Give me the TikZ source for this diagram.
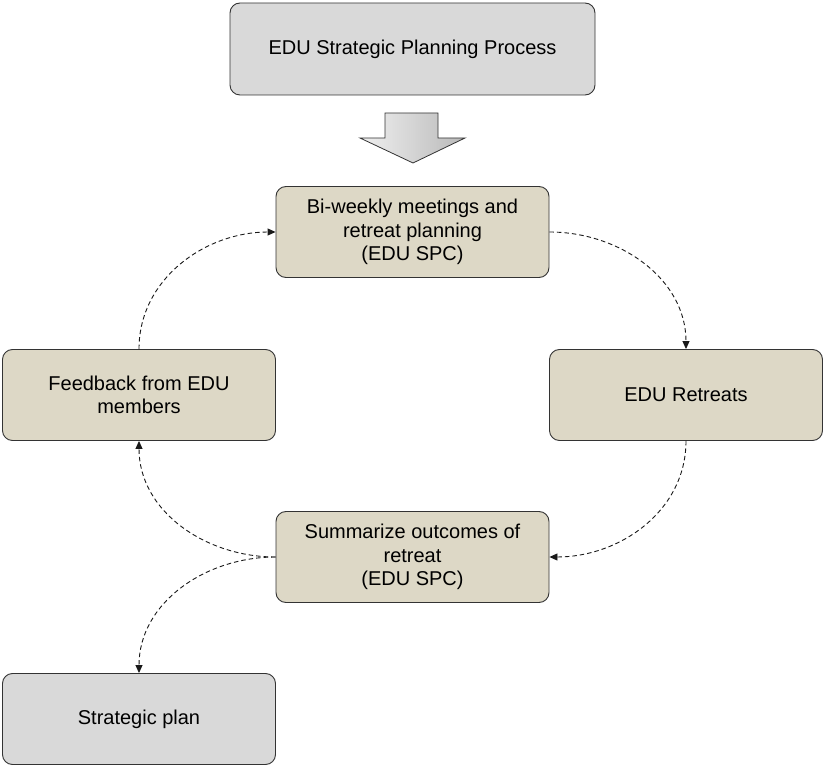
\documentclass[tikz,border=0pt]{standalone}
\usepackage{fontspec}
\setmainfont{Liberation Sans}
\usetikzlibrary{arrows.meta}
\definecolor{tanfill}{HTML}{DDD8C6}
\definecolor{greyfill}{HTML}{D9D9D9}
\definecolor{edge}{HTML}{333333}
\tikzset{
  box/.style={draw=edge, line width=0.9pt, rounded corners=10pt,
    minimum width=273pt, minimum height=91pt, inner sep=0pt, align=center,
    font=\fontsize{20}{23.5}\selectfont, text=black},
  tanbox/.style={box, fill=tanfill},
  greybox/.style={box, fill=greyfill},
  conn/.style={draw=black!90, line width=0.9pt, dash pattern=on 4.5pt off 3pt,
    -{Triangle[length=8pt,width=7pt]}},
}
\begin{document}
\begin{tikzpicture}[x=1pt,y=1pt]
\useasboundingbox (0,0) rectangle (825,-767);

% title box and block arrow
\node[greybox, minimum width=365pt, minimum height=92pt] (title) at (412.5,-49) {EDU Strategic Planning Process};
\shade[left color=gray!12, right color=gray!55, draw=edge, line width=0.8pt]
  (385,-113) -- (438,-113) -- (438,-138) -- (465,-138) -- (413,-163)
  -- (360,-138) -- (385,-138) -- cycle;

% cycle of steps
\node[tanbox] (plan) at (412.5,-232) {Bi-weekly meetings and\\retreat planning\\(EDU SPC)};
\node[tanbox] (feedback) at (139,-395) {Feedback from EDU\\members};
\node[tanbox] (retreats) at (686,-395) {EDU Retreats};
\node[tanbox] (summary) at (412.5,-557) {Summarize outcomes of\\retreat\\(EDU SPC)};
\node[greybox] (strategic) at (139,-719) {Strategic plan};

% dashed connectors
\draw[conn] (plan.east) to[out=0,in=90] (retreats.north);
\draw[conn] (retreats.south) to[out=-90,in=0] (summary.east);
\draw[conn] (summary.west) to[out=180,in=-90] (feedback.south);
\draw[conn] (feedback.north) to[out=90,in=180] (plan.west);
\draw[conn] (summary.west) to[out=180,in=90] (strategic.north);
\end{tikzpicture}
\end{document}
